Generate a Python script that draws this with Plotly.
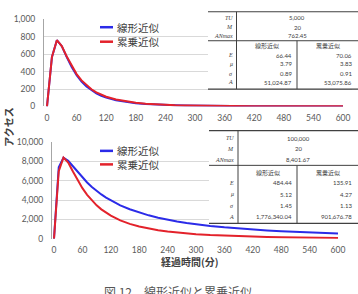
import plotly.graph_objects as go

# ---------------- data ----------------
minutes = [0, 10, 20, 30, 40, 50, 60, 70, 80, 90, 100, 110, 120,
           140, 160, 180, 200, 220, 240, 260, 280, 300,
           330, 360, 390, 420, 450, 480, 510, 540, 570, 600]

top_linear = [0, 566, 762, 693, 568, 453, 360, 286, 229, 185, 150, 123, 102,
              71, 50, 37, 27, 20.5, 15.7, 12.2, 9.5, 7.6,
              5.4, 4.0, 2.9, 2.2, 1.7, 1.3, 1.0, 0.8, 0.65, 0.5]
top_power = [0, 569, 762, 694, 575, 464, 372, 299, 242, 197, 162, 134, 112,
             79, 57, 42, 32, 24, 18.7, 14.7, 11.6, 9.3,
             6.8, 5.0, 3.8, 2.9, 2.3, 1.8, 1.4, 1.1, 0.9, 0.7]

bot_linear = [0, 7400, 8402, 8069, 7507, 6909, 6343, 5829, 5367, 4956, 4589, 4261, 3967,
              3465, 3053, 2712, 2425, 2182, 1974, 1795, 1639, 1502,
              1327, 1181, 1057, 951, 861, 782, 713, 653, 600, 553]
bot_power = [0, 6994, 8402, 7896, 6972, 6055, 5242, 4547, 3960, 3465, 3046, 2691, 2389,
             1906, 1544, 1267, 1052, 883, 747, 638, 548, 474,
             386, 318, 265, 222, 188, 160, 138, 119, 103, 90]

series_names = ["線形近似", "累乗近似"]
x_ticks = [0, 60, 120, 180, 240, 300, 360, 420, 480, 540, 600]

row_labels = ["E", "μ", "σ", "A"]
top_head = [("TU", "5,000"), ("M", "20"), ("ANmax", "762.45")]
top_linear_params = ["66.44", "3.79", "0.89", "51,024.87"]
top_power_params = ["70.06", "3.83", "0.91", "53,075.86"]
bot_head = [("TU", "100,000"), ("M", "20"), ("ANmax", "8,401.67")]
bot_linear_params = ["484.44", "5.12", "1.45", "1,776,340.04"]
bot_power_params = ["135.91", "4.27", "1.13", "901,676.78"]

caption = "図 12　線形近似と累乗近似"
y_title = "アクセス"
x_title = "経過時間(分)"

# ---------------- styling ----------------
W, H = 358, 294
BLUE = "#2b2be8"
RED = "#e3222b"
TXT = "#595959"
DARK = "#404040"
CJK = "Noto Sans CJK JP"
NUM = "Lato, Liberation Sans, sans-serif"


def px(x):
    return x / W


def py(y):
    return 1 - y / H


fig = go.Figure()

for xa, ya, lin, pw in [("x", "y", top_linear, top_power),
                        ("x2", "y2", bot_linear, bot_power)]:
    fig.add_trace(go.Scatter(x=minutes, y=lin, mode="lines", name=series_names[0],
                             line=dict(color=BLUE, width=2), xaxis=xa, yaxis=ya,
                             showlegend=False))
    fig.add_trace(go.Scatter(x=minutes, y=pw, mode="lines", name=series_names[1],
                             line=dict(color=RED, width=2), xaxis=xa, yaxis=ya,
                             showlegend=False))

axis_common = dict(showgrid=False, zeroline=False, ticks="", fixedrange=True,
                   tickfont=dict(family=NUM, size=8.5, color=TXT))
yaxis_common = dict(showgrid=True, gridcolor="#d9d9d9", gridwidth=1, zeroline=False,
                    ticks="", tickformat=",d", showline=True, linecolor="#a6a6a6",
                    linewidth=1, tickfont=dict(family=NUM, size=8.5, color=TXT),
                    ticklabelstandoff=6)

fig.update_layout(
    width=W, height=H, margin=dict(l=0, r=0, t=0, b=0),
    paper_bgcolor="white", plot_bgcolor="white", showlegend=False,
    xaxis=dict(domain=[px(44), px(352)], range=[-6.08, 618.2], anchor="y",
               tickvals=x_ticks, ticklabelstandoff=5, **axis_common),
    yaxis=dict(domain=[py(105), py(15)], range=[0, 1000], dtick=200, anchor="x",
               **yaxis_common),
    xaxis2=dict(domain=[px(52), px(352)], range=[-4.23, 629.6], anchor="y2",
                tickvals=x_ticks, ticklabelstandoff=5, **axis_common),
    yaxis2=dict(domain=[py(242), py(142)], range=[0, 10000], dtick=2000, anchor="x2",
                **yaxis_common),
)

shapes = []
annots = []


def line(x0, y0, x1, y1, color=DARK, width=1):
    shapes.append(dict(type="line", xref="paper", yref="paper", x0=px(x0), y0=py(y0),
                       x1=px(x1), y1=py(y1), line=dict(color=color, width=width),
                       layer="above"))


def text(x, y, s, size, color=DARK, anchor="center", family=NUM, italic=False,
         angle=0, bold=False):
    if italic:
        s = "<i>" + s + "</i>"
    if bold:
        s = "<b>" + s + "</b>"
    annots.append(dict(x=px(x), y=py(y), xref="paper", yref="paper", text=s,
                       showarrow=False, xanchor=anchor, yanchor="middle",
                       font=dict(family=family, size=size, color=color),
                       textangle=angle))


# legends
for (ly1, ly2) in [(23, 38), (151, 165)]:
    line(100, ly1, 113, ly1, BLUE, 2.5)
    text(115, ly1, series_names[0], 10.5, DARK, "left", CJK)
    line(100, ly2, 113, ly2, RED, 2.5)
    text(115, ly2, series_names[1], 10.5, DARK, "left", CJK)


def table(x_left, x_sep, x_mid, x_right, y_top, y_midline, y_bottom,
          head_rows_y, header_y, rows_y, head, lin, pw):
    shapes.append(dict(type="rect", xref="paper", yref="paper",
                       x0=px(x_left), x1=px(x_right + 2), y0=py(y_bottom), y1=py(y_top),
                       fillcolor="white", line=dict(width=0), layer="above"))
    line(x_left, y_top, x_right, y_top, DARK, 1.2)
    line(x_left, y_midline, x_right, y_midline, DARK, 1)
    line(x_left, y_bottom, x_right, y_bottom, DARK, 1.2)
    line(x_sep, y_top, x_sep, y_bottom, DARK, 1)
    line(x_mid, y_midline, x_mid, y_bottom, DARK, 1)
    for (lab, val), yy in zip(head, head_rows_y):
        text(x_sep - 2, yy, lab, 6, DARK, "right", "Liberation Serif", italic=True)
        text((x_sep + x_right) / 2, yy, val, 6, DARK, "center")
    text((x_sep + x_mid) / 2, header_y, series_names[0], 6, DARK, "center", CJK)
    text((x_mid + x_right) / 2, header_y, series_names[1], 6, DARK, "center", CJK)
    for lab, a, b, yy in zip(row_labels, lin, pw, rows_y):
        text(x_sep - 2, yy, lab, 6, DARK, "right", "Liberation Serif", italic=True)
        text(x_mid - 3, yy, a, 6, DARK, "right")
        text(x_right - 4, yy, b, 6, DARK, "right")


table(208, 236.5, 297, 358, 7, 37, 87, [13, 23, 32], 42, [52, 61, 71, 80],
      top_head, top_linear_params, top_power_params)
table(209, 238, 297, 358, 130, 166, 226, [138, 149, 160], 173, [184, 196, 208, 219],
      bot_head, bot_linear_params, bot_power_params)

# axis titles and caption
text(9, 126, y_title, 10, DARK, "center", CJK, angle=-90, bold=True)
text(190, 266, x_title, 10, DARK, "center", CJK, bold=True)
text(178, 297, caption, 12, "#555555", "center", CJK)

fig.update_layout(shapes=shapes, annotations=annots)
fig.write_html("out.html")
